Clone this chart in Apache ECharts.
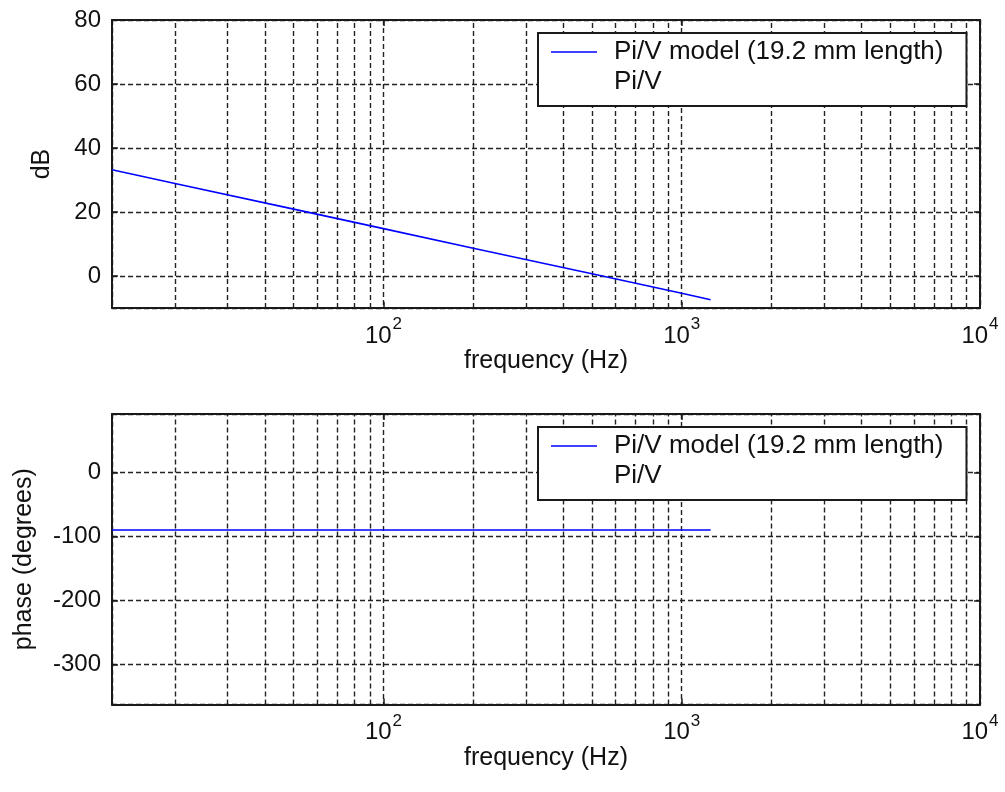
<!DOCTYPE html>
<html>
<head>
<meta charset="utf-8">
<script src="https://cdn.jsdelivr.net/npm/echarts@6/dist/echarts.min.js"></script>
<style>
html,body{margin:0;padding:0;background:#fff;}
#chart{width:1005px;height:792px;}
</style>
</head>
<body>
<div id="chart"></div>
<script>
// ---- data ----
const freqHz   = [12.3, 20, 50, 100, 200, 500, 1000, 1250];
const magDb    = [33.2, 28.9, 20.9, 14.8, 8.7, 0.7, -5.4, -7.4];
const phaseDeg = [-90, -90, -90, -90, -90, -90, -90, -90];
const measuredMag = [];     // "Pi/V" series (no visible data)
const measuredPhase = [];
const seriesNames = ['Pi/V model (19.2 mm length)', 'Pi/V'];
const minorGridHz = [20,30,40,50,60,70,80,90,200,300,400,500,600,700,800,900,2000,3000,4000,5000,6000,7000,8000,9000];
const xRange = [12.3, 10000];
const magRange = [-10, 80];
const phaseRange = [-362, 91];
const xLabel = 'frequency (Hz)';
const magLabel = 'dB';
const phaseLabel = 'phase (degrees)';

const FONT = 'Liberation Sans, Arial, sans-serif';
const AX = '#1a1a1a';
const dash = [5, 3];
const GRID_COLOR = '#222';
const GRID_W = 1.4;

function expLabel(v) {
  const l = Math.log10(v);
  const e = Math.round(l);
  if (Math.abs(l - e) > 1e-6) return '';
  return '{b|10}{s|' + e + '}';
}

function xAxes(gridIndex) {
  return [
    {
      type: 'log', logBase: 10, gridIndex, min: xRange[0], max: xRange[1],
      position: 'bottom',
      name: xLabel, nameLocation: 'middle', nameGap: 32,
      nameTextStyle: { fontFamily: FONT, fontSize: 25, color: '#111' },
      axisLine: { show: true, onZero: false, lineStyle: { color: AX, width: 2 } },
      axisTick: { show: true, inside: true, length: 6, lineStyle: { color: AX, width: 1.5 } },
      axisLabel: {
        margin: 8, showMinLabel: false, formatter: expLabel,
        rich: {
          b: { fontFamily: FONT, fontSize: 24, color: '#111', lineHeight: 40 },
          s: { fontFamily: FONT, fontSize: 17, color: '#111', verticalAlign: 'top', lineHeight: 17, padding: [0, 0, 0, 1] }
        }
      },
      splitLine: { show: true, lineStyle: { color: GRID_COLOR, type: dash, width: GRID_W } }
    },
    {
      type: 'log', logBase: 10, gridIndex, min: xRange[0], max: xRange[1],
      position: 'top',
      axisLine: { show: true, onZero: false, lineStyle: { color: AX, width: 2 } },
      axisTick: { show: true, inside: true, length: 6, lineStyle: { color: AX, width: 1.5 } },
      axisLabel: { show: false },
      splitLine: { show: false }
    }
  ];
}

function yAxes(gridIndex, range, name, nameGap) {
  return [
    {
      type: 'value', gridIndex, min: range[0], max: range[1], splitNumber: 5,
      position: 'left',
      name, nameLocation: 'middle', nameGap, nameRotate: 90,
      nameTextStyle: { fontFamily: FONT, fontSize: 25, color: '#111' },
      axisLine: { show: true, onZero: false, lineStyle: { color: AX, width: 2 } },
      axisTick: { show: true, inside: true, length: 6, lineStyle: { color: AX, width: 1.5 } },
      axisLabel: { margin: 11, showMinLabel: false, showMaxLabel: range[1] % 10 === 0,
        fontFamily: FONT, fontSize: 24, color: '#111' },
      splitLine: { show: true, lineStyle: { color: GRID_COLOR, type: dash, width: GRID_W } }
    },
    {
      type: 'value', gridIndex, min: range[0], max: range[1], splitNumber: 5,
      position: 'right',
      axisLine: { show: true, onZero: false, lineStyle: { color: AX, width: 2 } },
      axisTick: { show: true, inside: true, length: 6, lineStyle: { color: AX, width: 1.5 } },
      axisLabel: { show: false },
      splitLine: { show: false }
    }
  ];
}

function legendAt(top) {
  return {
    orient: 'vertical', left: 538, top, z: 20,
    data: seriesNames.map(n => ({ name: n, icon: 'rect' })),
    selectedMode: false,
    backgroundColor: '#fff',
    borderColor: AX, borderWidth: 2,
    padding: [6, 23, 11, 13],
    itemWidth: 46, itemHeight: 1.5, itemGap: 4,
    textStyle: { fontFamily: FONT, fontSize: 26, color: '#111', lineHeight: 26, padding: [0, 0, 0, 12] }
  };
}

const minorMarkLine = {
  silent: true,
  z: 2,
  symbol: ['none', 'none'],
  label: { show: false },
  animation: false,
  lineStyle: { color: GRID_COLOR, type: dash, width: GRID_W },
  emphasis: { disabled: true },
  data: minorGridHz.map(f => ({ xAxis: f }))
};

function pairs(xs, ys) { return xs.map((x, i) => [x, ys[i]]); }

const option = {
  backgroundColor: '#fff',
  animation: false,
  grid: [
    { left: 112, top: 20, width: 868, height: 288 },
    { left: 112, top: 414, width: 868, height: 290.5 }
  ],
  legend: [legendAt(33), legendAt(427)],
  xAxis: [...xAxes(0), ...xAxes(1)],
  yAxis: [...yAxes(0, magRange, magLabel, 57), ...yAxes(1, phaseRange, phaseLabel, 75)],
  series: [
    {
      name: seriesNames[0], type: 'line', xAxisIndex: 0, yAxisIndex: 0,
      data: pairs(freqHz, magDb), showSymbol: false, symbol: 'none',
      lineStyle: { color: '#0000ff', width: 1.6 }, itemStyle: { color: '#0000ff' },
      markLine: minorMarkLine, z: 3
    },
    {
      name: seriesNames[1], type: 'line', xAxisIndex: 0, yAxisIndex: 0,
      data: measuredMag, showSymbol: false, symbol: 'none',
      lineStyle: { color: 'rgba(0,0,0,0)' }, itemStyle: { color: 'rgba(0,0,0,0)' }
    },
    {
      name: seriesNames[0], type: 'line', xAxisIndex: 2, yAxisIndex: 2,
      data: pairs(freqHz, phaseDeg), showSymbol: false, symbol: 'none',
      lineStyle: { color: '#0000ff', width: 1.6 }, itemStyle: { color: '#0000ff' },
      markLine: minorMarkLine, z: 3
    },
    {
      name: seriesNames[1], type: 'line', xAxisIndex: 2, yAxisIndex: 2,
      data: measuredPhase, showSymbol: false, symbol: 'none',
      lineStyle: { color: 'rgba(0,0,0,0)' }, itemStyle: { color: 'rgba(0,0,0,0)' }
    }
  ]
};

const chart = echarts.init(document.getElementById('chart'), null, { renderer: 'canvas' });
chart.setOption(option);
</script>
</body>
</html>
